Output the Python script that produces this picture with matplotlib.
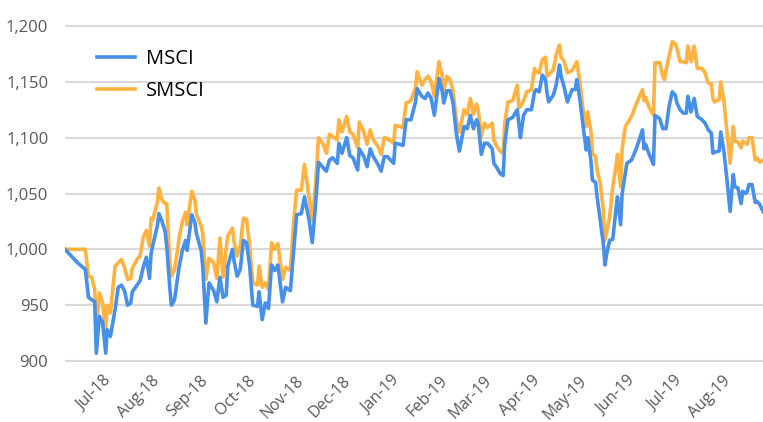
import pandas as pd
import matplotlib.pyplot as plt
import matplotlib.dates as mdates
from matplotlib.ticker import FuncFormatter

plt.rcParams['font.family'] = ['Open Sans', 'DejaVu Sans']

# days after the start date, shared by both series
start = pd.Timestamp('2018-06-03')
days = [0, 8, 13, 15, 17, 19, 20, 22, 24, 26, 27, 29, 32, 34, 36, 38, 40, 42, 43,
        46, 48, 50, 52, 54, 55, 56, 59, 60, 62, 64, 65, 67, 68, 70, 72, 73, 75, 77,
        78, 81, 83, 84, 87, 88, 90, 92, 95, 97, 99, 101, 103, 104, 107, 108, 110,
        112, 114, 116, 118, 120, 123, 124, 126, 128, 130, 132, 134, 136, 139, 141,
        144, 146, 148, 151, 153, 156, 158, 160, 162, 165, 167, 169, 171, 174, 175,
        177, 180, 182, 184, 187, 188, 191, 193, 195, 197, 200, 202, 204, 206, 210,
        211, 214, 216, 218, 221, 224, 225, 228, 230, 232, 234, 236, 239, 241, 242,
        244, 246, 248, 250, 252, 255, 257, 259, 261, 263, 264, 266, 268, 270, 273,
        274, 276, 278, 280, 281, 283, 286, 289, 290, 291, 293, 295, 298, 300, 301,
        303, 305, 307, 308, 309, 312, 314, 316, 317, 319, 321, 324, 326, 327, 329,
        331, 333, 334, 336, 337, 339, 340, 342, 344, 345, 346, 348, 350, 352, 353,
        355, 356, 358, 359, 362, 365, 369, 370, 371, 373, 376, 377, 380, 382, 383,
        384, 386, 388, 390, 391, 393, 395, 397, 398, 400, 402, 404, 407, 409, 411,
        413, 414, 415, 418, 419, 421, 423, 425, 427, 428, 430, 432, 433, 435, 436,
        437, 439, 441, 442, 444, 446]

msci = [1000, 988, 982, 957, 955, 953, 907, 940, 935, 907, 928, 922, 946, 966, 968,
        963, 950, 952, 962, 968, 972, 984, 993, 974, 996, 1003, 1021, 1032, 1025,
        1016, 1003, 965, 950, 955, 975, 985, 999, 1008, 999, 1031, 1024, 1014, 999,
        985, 934, 970, 963, 953, 975, 957, 959, 985, 1000, 990, 976, 982, 1008, 1006,
        985, 950, 949, 962, 937, 952, 947, 986, 981, 986, 953, 966, 963, 997, 1031,
        1032, 1047, 1026, 1006, 1038, 1078, 1073, 1070, 1080, 1082, 1077, 1095, 1086,
        1100, 1084, 1082, 1071, 1090, 1083, 1074, 1090, 1083, 1076, 1070, 1083, 1083,
        1077, 1095, 1094, 1093, 1116, 1116, 1132, 1144, 1137, 1135, 1140, 1135, 1120,
        1153, 1142, 1131, 1142, 1142, 1131, 1104, 1088, 1110, 1108, 1120, 1108, 1116,
        1113, 1085, 1095, 1095, 1090, 1077, 1073, 1068, 1066, 1095, 1116, 1118, 1125,
        1113, 1100, 1120, 1125, 1125, 1141, 1143, 1141, 1156, 1152, 1140, 1132, 1138,
        1148, 1165, 1155, 1145, 1132, 1143, 1143, 1152, 1134, 1111, 1089, 1100, 1080,
        1062, 1060, 1047, 1026, 1005, 986, 995, 1008, 1009, 1035, 1047, 1022, 1050,
        1068, 1077, 1080, 1090, 1107, 1090, 1094, 1086, 1076, 1120, 1117, 1108, 1108,
        1108, 1128, 1141, 1138, 1131, 1125, 1122, 1122, 1137, 1123, 1135, 1119, 1116,
        1113, 1107, 1104, 1086, 1087, 1088, 1105, 1088, 1062, 1034, 1067, 1056, 1055,
        1041, 1052, 1050, 1052, 1058, 1058, 1042, 1043, 1040, 1034]

smsci = [1000, 1000, 1000, 976, 975, 964, 928, 961, 952, 928, 950, 943, 985, 988, 991,
         984, 973, 974, 983, 991, 994, 1011, 1017, 1003, 1028, 1026, 1042, 1055, 1044,
         1041, 1041, 988, 976, 982, 1000, 1011, 1025, 1033, 1022, 1052, 1044, 1031,
         1021, 1014, 973, 992, 988, 974, 1010, 975, 1001, 1012, 1019, 1007, 994, 1003,
         1028, 1027, 1003, 970, 968, 985, 966, 970, 964, 1006, 1000, 1005, 973, 984,
         981, 1023, 1053, 1053, 1076, 1046, 1026, 1056, 1100, 1094, 1086, 1103, 1101,
         1098, 1116, 1105, 1119, 1105, 1103, 1091, 1114, 1105, 1094, 1107, 1098, 1092,
         1085, 1100, 1099, 1095, 1111, 1110, 1109, 1131, 1133, 1145, 1159, 1147, 1152,
         1155, 1150, 1137, 1168, 1155, 1142, 1155, 1152, 1142, 1116, 1105, 1125, 1121,
         1135, 1121, 1130, 1125, 1101, 1113, 1109, 1113, 1098, 1092, 1088, 1086, 1113,
         1132, 1133, 1147, 1127, 1128, 1133, 1141, 1143, 1162, 1159, 1158, 1170, 1172,
         1155, 1156, 1161, 1175, 1183, 1172, 1168, 1158, 1160, 1165, 1168, 1150, 1125,
         1110, 1123, 1106, 1086, 1083, 1071, 1059, 1035, 1008, 1015, 1029, 1056, 1074,
         1085, 1056, 1090, 1110, 1112, 1119, 1130, 1143, 1133, 1136, 1128, 1120, 1167,
         1167, 1155, 1152, 1160, 1173, 1186, 1184, 1180, 1168, 1168, 1167, 1182, 1168,
         1182, 1162, 1162, 1158, 1149, 1148, 1135, 1132, 1134, 1150, 1133, 1105, 1077,
         1110, 1097, 1096, 1091, 1097, 1095, 1094, 1100, 1100, 1080, 1082, 1078, 1080]

dates = start + pd.to_timedelta(days, unit='D')
month_ticks = pd.date_range('2018-07-01', '2019-08-01', freq='MS')

fig = plt.figure(figsize=(7.63, 4.22), dpi=100)
ax = fig.add_axes([65 / 763, 1 - 364.4 / 422, 1 - 65 / 763, 341.8 / 422])

ax.plot(dates, msci, color='#4790EA', lw=2.6, label='MSCI', zorder=3)
ax.plot(dates, smsci, color='#FFB23F', lw=2.6, label='SMSCI', zorder=2)

ax.set_xlim(start, start + pd.Timedelta(days=446))
ax.set_ylim(897, 1203)
ax.set_yticks([900, 950, 1000, 1050, 1100, 1150, 1200])
ax.yaxis.set_major_formatter(FuncFormatter(lambda v, p: f'{v:,.0f}'))
ax.set_xticks(month_ticks)
ax.xaxis.set_major_formatter(mdates.DateFormatter('%b-%y'))
for lab in ax.get_xticklabels():
    lab.set_rotation(45)
    lab.set_ha('right')
    lab.set_va('center')
    lab.set_rotation_mode('anchor')

ax.grid(axis='y', color='#d9d9d9', lw=1.5)
ax.set_axisbelow(True)
ax.tick_params(length=0, colors='#595959', labelsize=11.5)
ax.tick_params(axis='y', pad=12, labelsize=12)
ax.tick_params(axis='x', pad=10)
for s in ax.spines.values():
    s.set_visible(False)

ax.legend(loc='upper left', bbox_to_anchor=(0.02, 0.975), frameon=False,
          fontsize=14.5, handlelength=1.9, handletextpad=0.55, labelspacing=0.6)

fig.savefig('out.png', dpi=100)
